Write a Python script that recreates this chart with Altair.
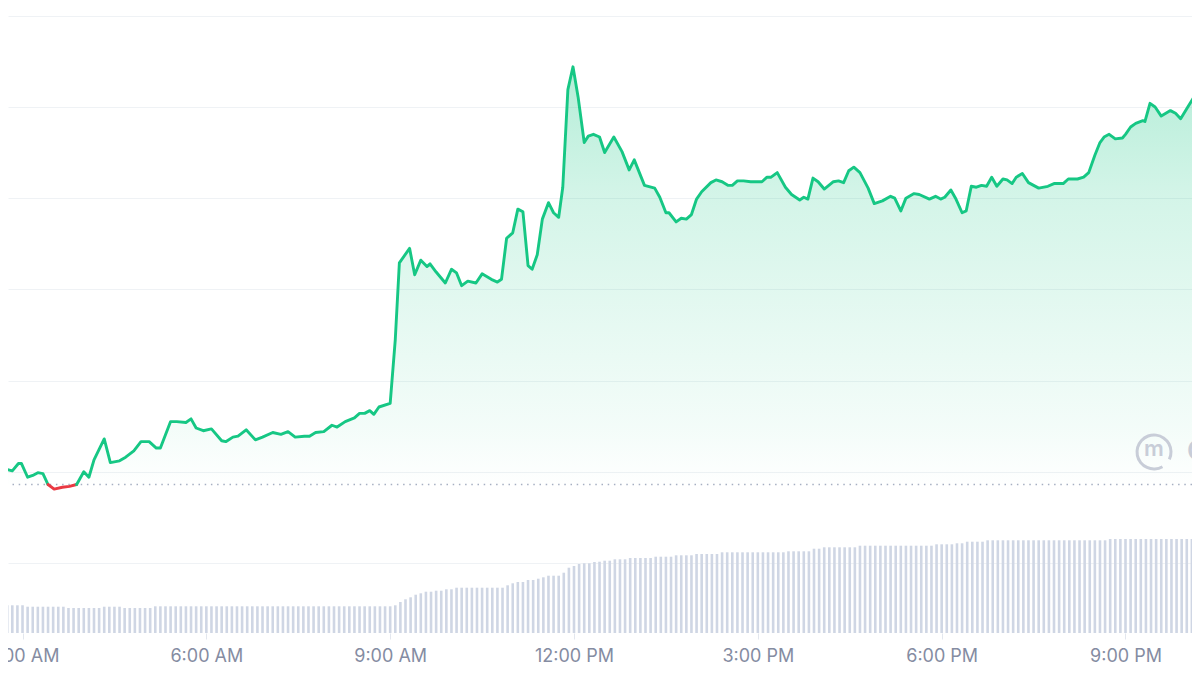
import altair as alt
import pandas as pd

# ---- price series (time of day, price) ----
TIMES = [
    "2:43", "2:50", "2:56", "2:59", "3:05", "3:10", "3:15", "3:20", "3:25", "3:31",
    "3:39", "3:46", "3:53", "4:00", "4:05", "4:10", "4:20", "4:26", "4:35", "4:41",
    "4:49", "4:56", "5:04", "5:11", "5:15", "5:25", "5:31", "5:40", "5:45", "5:50",
    "5:57", "6:05", "6:15", "6:19", "6:26", "6:31", "6:39", "6:48", "6:55", "7:05",
    "7:13", "7:20", "7:27", "7:36", "7:41", "7:47", "7:55", "8:03", "8:08", "8:16",
    "8:25", "8:30", "8:35", "8:40", "8:44", "8:49", "9:00", "9:05", "9:09", "9:19",
    "9:24", "9:30", "9:36", "9:39", "9:45", "9:54", "10:00", "10:05", "10:10", "10:16",
    "10:24", "10:30", "10:39", "10:45", "10:49", "10:54", "11:00", "11:05", "11:10", "11:15",
    "11:19", "11:24", "11:29", "11:35", "11:40", "11:45", "11:49", "11:54", "11:59", "12:04",
    "12:10", "12:14", "12:19", "12:25", "12:30", "12:39", "12:47", "12:54", "12:59", "13:09",
    "13:19", "13:24", "13:30", "13:33", "13:40", "13:45", "13:50", "13:55", "14:00", "14:05",
    "14:14", "14:19", "14:25", "14:31", "14:35", "14:40", "14:46", "14:53", "15:04", "15:09",
    "15:13", "15:19", "15:27", "15:33", "15:41", "15:45", "15:49", "15:54", "15:59", "16:05",
    "16:14", "16:19", "16:24", "16:29", "16:34", "16:40", "16:48", "16:54", "17:02", "17:10",
    "17:14", "17:20", "17:25", "17:33", "17:38", "17:48", "17:54", "17:59", "18:03", "18:09",
    "18:14", "18:20", "18:24", "18:29", "18:34", "18:39", "18:44", "18:49", "18:54", "19:00",
    "19:04", "19:09", "19:13", "19:19", "19:25", "19:35", "19:44", "19:50", "19:59", "20:04",
    "20:13", "20:19", "20:24", "20:30", "20:35", "20:39", "20:44", "20:50", "20:57", "21:00",
    "21:05", "21:10", "21:17", "21:19", "21:24", "21:29", "21:35", "21:44", "21:49", "21:54",
    "22:01", "22:06", "22:10",
]
PRICES = [
    0.3103, 0.3101, 0.3109, 0.3109, 0.3094, 0.3096, 0.3099, 0.3098, 0.3086, 0.3081,
    0.3083, 0.3084, 0.3086, 0.3100, 0.3094, 0.3113, 0.3136, 0.3110, 0.3112, 0.3116,
    0.3123, 0.3133, 0.3133, 0.3126, 0.3126, 0.3155, 0.3155, 0.3154, 0.3158, 0.3148,
    0.3145, 0.3147, 0.3134, 0.3133, 0.3138, 0.3139, 0.3146, 0.3135, 0.3138, 0.3143,
    0.3141, 0.3144, 0.3138, 0.3139, 0.3139, 0.3143, 0.3144, 0.3151, 0.3149, 0.3155,
    0.3159, 0.3164, 0.3164, 0.3167, 0.3163, 0.3171, 0.3175, 0.3245, 0.3329, 0.3345,
    0.3316, 0.3332, 0.3325, 0.3328, 0.3319, 0.3307, 0.3322, 0.3318, 0.3304, 0.3309,
    0.3307, 0.3317, 0.3311, 0.3308, 0.3311, 0.3356, 0.3362, 0.3388, 0.3385, 0.3326,
    0.3322, 0.3338, 0.3377, 0.3395, 0.3384, 0.3379, 0.3412, 0.3519, 0.3544, 0.3511,
    0.3461, 0.3468, 0.3470, 0.3467, 0.3450, 0.3467, 0.3451, 0.3431, 0.3442, 0.3414,
    0.3411, 0.3401, 0.3384, 0.3384, 0.3374, 0.3378, 0.3377, 0.3382, 0.3399, 0.3407,
    0.3417, 0.3420, 0.3418, 0.3414, 0.3414, 0.3419, 0.3419, 0.3418, 0.3418, 0.3423,
    0.3423, 0.3428, 0.3412, 0.3404, 0.3398, 0.3401, 0.3399, 0.3422, 0.3418, 0.3410,
    0.3418, 0.3419, 0.3417, 0.3430, 0.3434, 0.3428, 0.3411, 0.3394, 0.3397, 0.3402,
    0.3400, 0.3386, 0.3400, 0.3405, 0.3404, 0.3399, 0.3402, 0.3399, 0.3401, 0.3409,
    0.3399, 0.3384, 0.3386, 0.3413, 0.3412, 0.3414, 0.3413, 0.3423, 0.3413, 0.3421,
    0.3420, 0.3416, 0.3423, 0.3427, 0.3417, 0.3411, 0.3413, 0.3416, 0.3416, 0.3421,
    0.3421, 0.3423, 0.3428, 0.3447, 0.3461, 0.3467, 0.3470, 0.3465, 0.3466, 0.3470,
    0.3478, 0.3482, 0.3485, 0.3484, 0.3504, 0.3500, 0.3490, 0.3496, 0.3493, 0.3487,
    0.3500, 0.3509, 0.3512,
]
OPEN_PRICE = 0.3086

# ---- volume bars, one every 5 minutes starting 2:45 ----
VOLUME_START = "2:45"
VOLUME_STEP_MINUTES = 5
VOLUME = [
    2.77, 2.77, 2.77,
    2.77, 2.63, 2.63, 2.63, 2.63, 2.63, 2.63, 2.63, 2.63, 2.50, 2.50, 2.50,
    2.50, 2.50, 2.50, 2.50, 2.63, 2.63, 2.63, 2.63, 2.50, 2.50, 2.50, 2.50,
    2.50, 2.50, 2.67, 2.67, 2.67, 2.67, 2.67, 2.67, 2.67, 2.67, 2.67, 2.67,
    2.67, 2.67, 2.67, 2.67, 2.67, 2.67, 2.67, 2.67, 2.67, 2.67, 2.67, 2.67,
    2.67, 2.67, 2.67, 2.67, 2.67, 2.67, 2.67, 2.67, 2.67, 2.67, 2.67, 2.67,
    2.67, 2.67, 2.67, 2.67, 2.67, 2.67, 2.67, 2.67, 2.67, 2.67, 2.67, 2.67,
    2.67, 2.77, 3.10, 3.37, 3.57, 3.83, 3.97, 4.13, 4.13, 4.23, 4.23, 4.37,
    4.37, 4.53, 4.53, 4.53, 4.53, 4.53, 4.53, 4.53, 4.53, 4.53, 4.53, 4.77,
    4.97, 5.10, 5.10, 5.30, 5.30, 5.43, 5.57, 5.73, 5.73, 5.73, 6.03, 6.53,
    6.70, 6.90, 6.97, 6.97, 7.10, 7.13, 7.23, 7.23, 7.37, 7.37, 7.37, 7.50,
    7.50, 7.50, 7.50, 7.50, 7.63, 7.63, 7.63, 7.63, 7.77, 7.77, 7.77, 7.77,
    7.90, 7.90, 7.90, 7.90, 7.90, 8.07, 8.07, 8.07, 8.07, 8.07, 8.07, 8.07,
    8.07, 8.07, 8.07, 8.07, 8.07, 8.07, 8.17, 8.17, 8.17, 8.17, 8.17, 8.43,
    8.43, 8.57, 8.57, 8.57, 8.57, 8.57, 8.57, 8.57, 8.73, 8.73, 8.73, 8.73,
    8.73, 8.73, 8.73, 8.73, 8.73, 8.73, 8.73, 8.73, 8.73, 8.73, 8.73, 8.87,
    8.87, 8.87, 8.87, 8.97, 8.97, 9.13, 9.13, 9.13, 9.13, 9.27, 9.27, 9.27,
    9.27, 9.27, 9.27, 9.27, 9.27, 9.27, 9.27, 9.27, 9.27, 9.27, 9.27, 9.27,
    9.27, 9.27, 9.27, 9.27, 9.27, 9.27, 9.27, 9.27, 9.27, 9.40, 9.40, 9.40,
    9.40, 9.40, 9.40, 9.40, 9.40, 9.40, 9.40, 9.40, 9.40, 9.40, 9.40, 9.40,
    9.40, 9.40,
]

TICK_HOURS = [3, 6, 9, 12, 15, 18, 21]
TICK_LABELS = ["3:00 AM", "6:00 AM", "9:00 AM", "12:00 PM", "3:00 PM", "6:00 PM", "9:00 PM"]
GRID_PRICES = [0.30, 0.31, 0.32, 0.33, 0.34, 0.35, 0.36]
WATERMARK = "CoinMarketCap"

X_DOMAIN = [2.8447, 22.0037]
PRICE_DOMAIN = [0.29232, 0.36085]
VOLUME_DOMAIN = [0, 62.5]

GREEN = "#16c784"
RED = "#ea3943"


def to_hours(s):
    h, m = s.split(":")
    return int(h) + int(m) / 60.0


price_df = pd.DataFrame({"time": TIMES, "price": PRICES})
price_df["hour"] = price_df["time"].map(to_hours)
price_df["open"] = OPEN_PRICE

# split the line into runs above / below the opening price
rows = []
run = 0
prev = None
for i in range(len(PRICES) - 1):
    d = "down" if max(PRICES[i], PRICES[i + 1]) <= OPEN_PRICE else "up"
    if d != prev:
        run += 1
        rows.append({"hour": to_hours(TIMES[i]), "price": PRICES[i], "run": run, "dir": d})
        prev = d
    rows.append({"hour": to_hours(TIMES[i + 1]), "price": PRICES[i + 1], "run": run, "dir": d})
line_df = pd.DataFrame(rows)

vstart = to_hours(VOLUME_START)
vol_df = pd.DataFrame({
    "hour": [vstart + i * VOLUME_STEP_MINUTES / 60.0 for i in range(len(VOLUME))],
    "volume": VOLUME,
})

label_expr = " : ".join(
    f"datum.value == {h} ? '{t}'" for h, t in zip(TICK_HOURS, TICK_LABELS)
) + " : ''"

x_axis = alt.Axis(
    values=TICK_HOURS, labelExpr=label_expr, grid=False, domain=False,
    ticks=True, tickColor="#e3e7ee", tickSize=6, tickWidth=1,
    labelPadding=8, labelFont="Inter", labelFontSize=18, labelColor="#858ca2",
    labelFlush=False, labelOverlap=False, title=None,
)
x_scale = alt.Scale(domain=X_DOMAIN, nice=False, zero=False)
X = alt.X("hour:Q", scale=x_scale, axis=x_axis)

price_scale = alt.Scale(domain=PRICE_DOMAIN, nice=False, zero=False)

gradient = alt.Gradient(
    gradient="linear",
    stops=[
        alt.GradientStop(color="rgba(22,199,132,0.32)", offset=0),
        alt.GradientStop(color="rgba(22,199,132,0.19)", offset=0.3),
        alt.GradientStop(color="rgba(22,199,132,0.11)", offset=0.6),
        alt.GradientStop(color="rgba(22,199,132,0.05)", offset=0.85),
        alt.GradientStop(color="rgba(22,199,132,0.0)", offset=1),
    ],
    x1=1, x2=1, y1=0, y2=1,
)

area = alt.Chart(price_df).mark_area(clip=True, color=gradient).encode(
    x=X,
    y=alt.Y("price:Q", scale=price_scale,
            axis=alt.Axis(values=GRID_PRICES, grid=True, labels=False, ticks=False,
                          domain=False, gridColor="#eff2f5", gridWidth=1, title=None)),
    y2="open:Q",
)

volume = alt.Chart(vol_df).mark_bar(size=2.6, color="#cfd6e4", clip=True).encode(
    x=X,
    y=alt.Y("volume:Q", scale=alt.Scale(domain=VOLUME_DOMAIN, nice=False), axis=None),
)

base_df = pd.DataFrame({"open": [OPEN_PRICE]})
baseline = alt.Chart(base_df).mark_rule(
    strokeDash=[1.5, 4.7], strokeWidth=1.5, color="#a6afc2"
).encode(y=alt.Y("open:Q", scale=price_scale, axis=None))

line = alt.Chart(line_df).mark_line(
    strokeWidth=2.9, clip=True, strokeJoin="round", strokeCap="round"
).encode(
    x=X,
    y=alt.Y("price:Q", scale=price_scale, axis=None),
    detail="run:N",
    color=alt.Color("dir:N", scale=alt.Scale(domain=["up", "down"], range=[GREEN, RED]), legend=None),
)

wm_df = pd.DataFrame({"name": [WATERMARK]})
logo_ring = alt.Chart(wm_df).mark_arc(
    innerRadius=15.5, outerRadius=18.5, theta=2.62, theta2=8.3, color="#c8cdd8"
).encode(x=alt.value(1146), y=alt.value(444))
logo_m = alt.Chart(wm_df).mark_text(
    text="m", font="Inter", fontSize=22, fontWeight=600, color="#c8cdd8",
    align="center", baseline="middle",
).encode(x=alt.value(1146), y=alt.value(441))
logo_text = alt.Chart(wm_df).mark_text(
    font="Inter", fontSize=27, fontWeight=600, color="#c8cdd8",
    align="left", baseline="middle",
).encode(x=alt.value(1179), y=alt.value(444), text="name:N")

chart = alt.layer(
    area, volume, baseline, line, logo_ring, logo_m, logo_text
).resolve_scale(y="independent").properties(
    width=1184, height=625,
    padding={"left": 0, "top": 0, "right": 0, "bottom": 34},
    autosize=alt.AutoSizeParams(type="none"),
    background="white",
).configure_view(strokeWidth=0)

chart.save("out.html", embed_options={"renderer": "svg", "actions": False})
